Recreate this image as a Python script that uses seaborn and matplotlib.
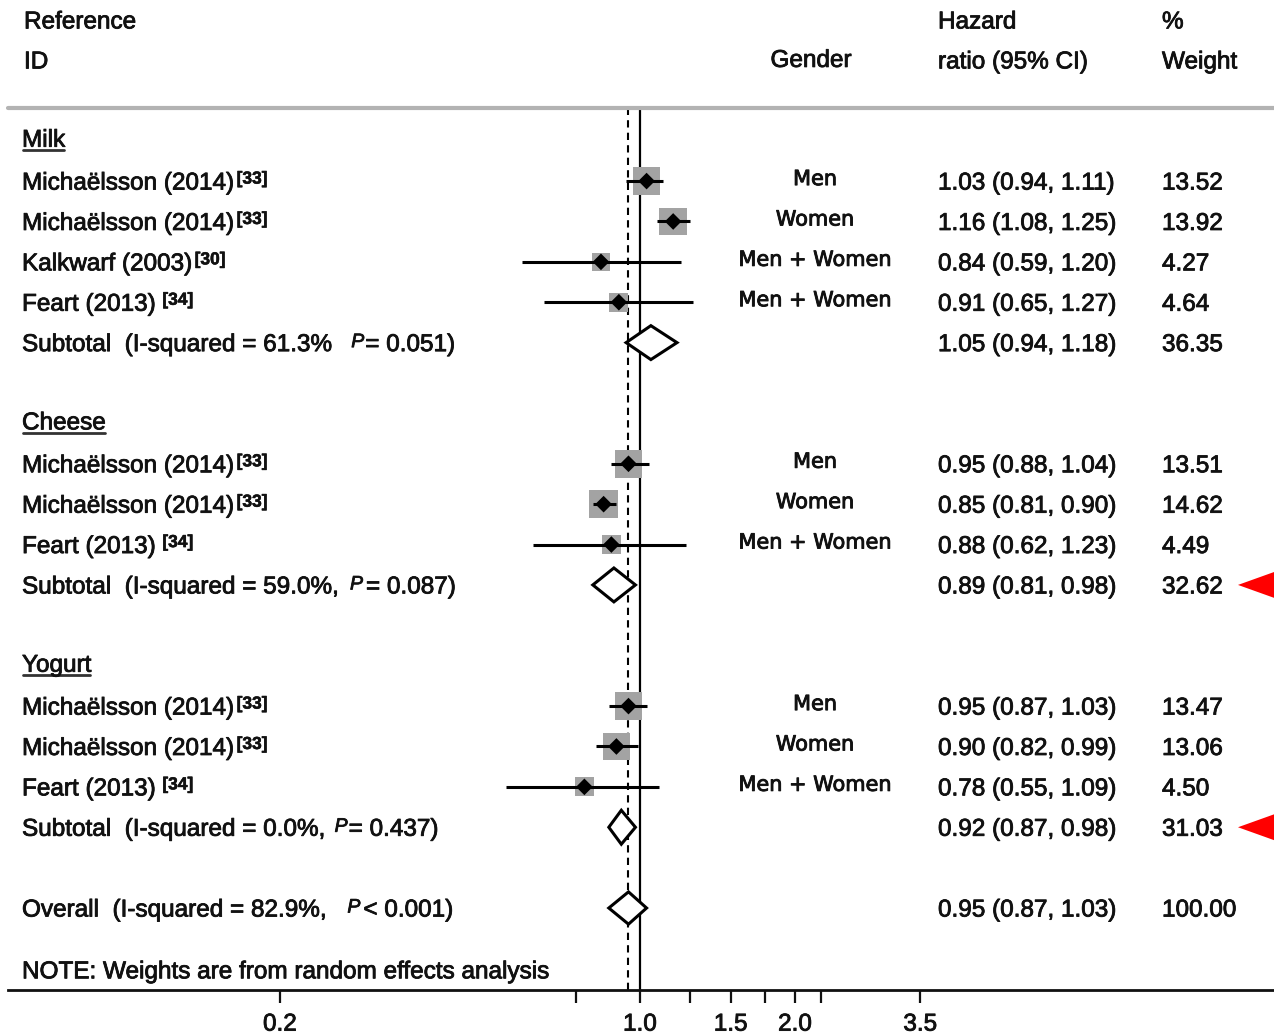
import matplotlib
matplotlib.use("Agg")
import matplotlib.pyplot as plt
import matplotlib.transforms as mtransforms
import matplotlib.patheffects as pe
from matplotlib.patches import Polygon
from matplotlib.lines import Line2D
import numpy as np
import pandas as pd
import seaborn as sns

# ---------------------------------------------------------------- data
groups = ["Milk", "Cheese", "Yogurt"]

study_group = ["Milk", "Milk", "Milk", "Milk",
               "Cheese", "Cheese", "Cheese",
               "Yogurt", "Yogurt", "Yogurt"]
study_names = ["Michaëlsson (2014)", "Michaëlsson (2014)", "Kalkwarf (2003)", "Feart (2013)",
               "Michaëlsson (2014)", "Michaëlsson (2014)", "Feart (2013)",
               "Michaëlsson (2014)", "Michaëlsson (2014)", "Feart (2013)"]
study_refs = ["[33]", "[33]", "[30]", "[34]",
              "[33]", "[33]", "[34]",
              "[33]", "[33]", "[34]"]
genders = ["Men", "Women", "Men + Women", "Men + Women",
           "Men", "Women", "Men + Women",
           "Men", "Women", "Men + Women"]
hr = [1.03, 1.16, 0.84, 0.91,
      0.95, 0.85, 0.88,
      0.95, 0.90, 0.78]
ci_low = [0.94, 1.08, 0.59, 0.65,
          0.88, 0.81, 0.62,
          0.87, 0.82, 0.55]
ci_high = [1.11, 1.25, 1.20, 1.27,
           1.04, 0.90, 1.23,
           1.03, 0.99, 1.09]
weights = [13.52, 13.92, 4.27, 4.64,
           13.51, 14.62, 4.49,
           13.47, 13.06, 4.50]

subtotal_hr = [1.05, 0.89, 0.92]
subtotal_low = [0.94, 0.81, 0.87]
subtotal_high = [1.18, 0.98, 0.98]
subtotal_weight = [36.35, 32.62, 31.03]
subtotal_i2 = ["61.3%", "59.0%,", "0.0%,"]
subtotal_p = ["= 0.051)", "= 0.087)", "= 0.437)"]

overall_hr = 0.95
overall_low = 0.87
overall_high = 1.03
overall_weight = 100.00
overall_i2 = "82.9%,"
overall_p = "< 0.001)"

highlighted_groups = ["Cheese", "Yogurt"]

x_ticks = [0.2, 0.75, 1.0, 1.25, 1.5, 1.75, 2.0, 2.25, 3.5]
x_tick_labels = ["0.2", "", "1.0", "", "1.5", "", "2.0", "", "3.5"]

# ---------------------------------------------------------------- rows
rows = []
header_rows = {}
subtotal_rows = {}
r = 0
for g in groups:
    header_rows[g] = r
    r += 1
    for i, sg in enumerate(study_group):
        if sg == g:
            rows.append(r)
            r += 1
    subtotal_rows[g] = r
    r += 2
overall_row = r
note_row = r + 1.53

studies = pd.DataFrame({
    "group": study_group, "name": study_names, "ref": study_refs,
    "gender": genders, "hr": hr, "low": ci_low, "high": ci_high,
    "weight": weights, "row": rows,
})

# ---------------------------------------------------------------- style
sns.set_theme(style="white")
plt.rcParams["font.family"] = ["Liberation Sans", "DejaVu Sans"]
plt.rcParams["text.color"] = "#111111"

W, H = 1274, 1035
fig = plt.figure(figsize=(W / 100, H / 100), dpi=100)
fig.patch.set_facecolor("white")
ax = fig.add_axes([8 / W, 45 / H, 1266 / W, 880 / H])
ax.set_facecolor("white")
ax.set_xscale("log")
ax.set_xlim(0.0593, 17.02)
ax.set_ylim(21.03, -0.76)
AX_W = 1266.0

renderer = fig.canvas.get_renderer()
trans = mtransforms.blended_transform_factory(ax.transAxes, ax.transData)

INK = "#111111"
heavy = [pe.withStroke(linewidth=0.6, foreground=INK)]
BODY = dict(fontsize=17.5, color=INK, path_effects=heavy)
SUP = dict(fontsize=12.5, fontweight="bold", color=INK,
           path_effects=[pe.withStroke(linewidth=0.4, foreground=INK)])
PITAL = dict(fontsize=14, fontstyle="italic", color=INK, path_effects=heavy)
GENDER = dict(fontsize=15, family=["DejaVu Sans"], color=INK,
              path_effects=[pe.withStroke(linewidth=0.65, foreground=INK)])


def xf(px):
    return (px - 8) / AX_W


def text_run(x_px, y, pieces, drop=8.5):
    """Draw a sequence of text pieces left to right on one baseline."""
    cursor = 0.0
    for s, props, gap, rise in pieces:
        cursor += gap
        tr = mtransforms.offset_copy(trans, fig=fig, x=cursor, y=-drop + rise, units="dots")
        t = ax.text(xf(x_px), y, s, transform=tr, ha="left", va="baseline", **props)
        cursor += t.get_window_extent(renderer).width
    return cursor


# ---------------------------------------------------------------- reference lines
ax.axvline(1.0, color="black", lw=1.6, zorder=1)
ax.axvline(overall_hr, color="black", lw=1.5, ls=(0, (3.5, 2.5)), zorder=1)

# ---------------------------------------------------------------- study markers
sns.scatterplot(data=studies, x="hr", y="row", size="weight",
                sizes=(180, 420), size_norm=(4.27, 14.62),
                marker="s", color="#a3a3a3", edgecolor="none",
                legend=False, ax=ax, zorder=2)
ax.hlines(studies["row"], studies["low"], studies["high"],
          color="black", lw=2.2, zorder=3)
sns.scatterplot(data=studies, x="hr", y="row", marker="D", s=72,
                color="black", edgecolor="none", legend=False, ax=ax, zorder=4)


def pooled_diamond(est, lo, hi, row, half=0.42):
    poly = Polygon([(lo, row), (est, row - half), (hi, row), (est, row + half)],
                   closed=True, facecolor="white", edgecolor="black", lw=2.2, zorder=5)
    ax.add_patch(poly)


for gi, g in enumerate(groups):
    pooled_diamond(subtotal_hr[gi], subtotal_low[gi], subtotal_high[gi], subtotal_rows[g])
pooled_diamond(overall_hr, overall_low, overall_high, overall_row, half=0.40)

# ---------------------------------------------------------------- header
header_y1, header_y2 = -2.99, -2.0
text_run(24, header_y1, [("Reference", BODY, 0, 0)])
text_run(24, header_y2, [("ID", BODY, 0, 0)])
gh = mtransforms.offset_copy(trans, fig=fig, y=-1, units="dots")
ax.text(xf(811), header_y2, "Gender", transform=gh, ha="center", va="center", **BODY)
text_run(938, header_y1, [("Hazard", BODY, 0, 0)])
text_run(938, header_y2, [("ratio (95% CI)", BODY, 0, 0)])
text_run(1162, header_y1, [("%", BODY, 0, 0)])
text_run(1162, header_y2, [("Weight", BODY, 0, 0)])
fig.add_artist(Line2D([8 / W, 1.0], [1 - 108 / H] * 2, transform=fig.transFigure,
                      color="#b3b3b3", lw=3))

# ---------------------------------------------------------------- table text
ref_gap = {"Michaëlsson (2014)": 3, "Kalkwarf (2003)": 3, "Feart (2013)": 7}
for gi, g in enumerate(groups):
    hrow = header_rows[g]
    w = text_run(22, hrow, [(g, BODY, 0, 0)], drop=6.0)
    ul = mtransforms.offset_copy(trans, fig=fig, y=-9.5, units="dots")
    ax.plot([xf(23), xf(23) + (w - 2) / AX_W], [hrow, hrow], transform=ul,
            color="#333333", lw=2.0, clip_on=False)

    for _, s in studies[studies["group"] == g].iterrows():
        text_run(22, s["row"], [(s["name"], BODY, 0, 0),
                                (s["ref"], SUP, ref_gap[s["name"]], 6)])
        gtr = mtransforms.offset_copy(trans, fig=fig, y=2, units="dots")
        ax.text(xf(815), s["row"], s["gender"], transform=gtr,
                ha="center", va="center", **GENDER)
        text_run(938, s["row"], [(f"{s['hr']:.2f} ({s['low']:.2f}, {s['high']:.2f})", BODY, 0, 0)])
        text_run(1162, s["row"], [(f"{s['weight']:.2f}", BODY, 0, 0)])

    srow = subtotal_rows[g]
    p_gaps = {"Milk": (20, 1), "Cheese": (12, 3), "Yogurt": (10, 1)}[g]
    text_run(22, srow, [(f"Subtotal  (I-squared = {subtotal_i2[gi]}", BODY, 0, 0),
                        ("P", PITAL, p_gaps[0], 4.0),
                        (subtotal_p[gi], BODY, p_gaps[1], 0)])
    text_run(938, srow, [(f"{subtotal_hr[gi]:.2f} ({subtotal_low[gi]:.2f}, {subtotal_high[gi]:.2f})", BODY, 0, 0)])
    text_run(1162, srow, [(f"{subtotal_weight[gi]:.2f}", BODY, 0, 0)])

text_run(22, overall_row, [(f"Overall  (I-squared = {overall_i2}", BODY, 0, 0),
                           ("P", PITAL, 22, 4.0),
                           (overall_p, BODY, 3, 0)])
text_run(938, overall_row, [(f"{overall_hr:.2f} ({overall_low:.2f}, {overall_high:.2f})", BODY, 0, 0)])
text_run(1162, overall_row, [(f"{overall_weight:.2f}", BODY, 0, 0)])
text_run(22, note_row, [("NOTE: Weights are from random effects analysis", BODY, 0, 0)])

# ---------------------------------------------------------------- highlight arrows
for g in highlighted_groups:
    rr = subtotal_rows[g]
    tri = Polygon([(xf(1238), rr), (xf(1300), rr - 0.55), (xf(1300), rr + 0.55)],
                  closed=True, transform=trans, facecolor="#ff0000",
                  edgecolor="none", clip_on=False, zorder=6)
    ax.add_patch(tri)

# ---------------------------------------------------------------- axis
for side in ["top", "left", "right"]:
    ax.spines[side].set_visible(False)
ax.spines["bottom"].set_linewidth(2.0)
ax.spines["bottom"].set_color(INK)
ax.set_xticks(x_ticks)
ax.set_xticklabels(x_tick_labels)
ax.xaxis.set_minor_locator(matplotlib.ticker.NullLocator())
ax.tick_params(axis="x", which="major", direction="out", length=9.5, width=1.6,
               labelsize=17.5, pad=7.5, color=INK, labelcolor=INK, bottom=True)
for lbl in ax.get_xticklabels():
    lbl.set_path_effects(heavy)
ax.set_yticks([])
ax.set_xlabel("")
ax.set_ylabel("")
ax.grid(False)

fig.savefig("out.png", dpi=100, facecolor="white")
